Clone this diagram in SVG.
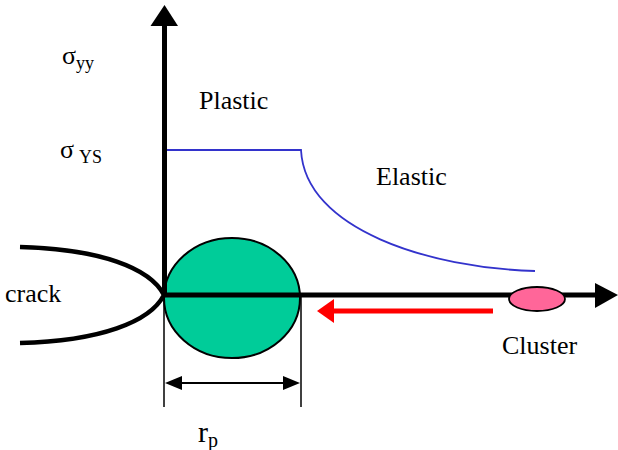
<svg xmlns="http://www.w3.org/2000/svg" width="618" height="450" viewBox="0 0 618 450">
<style>
.lbl{font-size:26px}
.sub{font-size:18px}
.thin{stroke:#000;stroke-width:1.5;fill:none}
</style>
<rect width="618" height="450" fill="#fff"/>
<g font-family="Liberation Serif, Times New Roman, DejaVu Serif, serif" fill="#000">
<g id="plastic-zone">
<ellipse cx="232" cy="298" rx="68" ry="60" fill="#00CC99" stroke="#000" stroke-width="2"/>
</g>
<g id="crack">
<path d="M20,247 C100,249 150,268 164,295 C150,322 100,341 20,343" fill="none" stroke="#000" stroke-width="4.5"/>
<text class="lbl" x="5" y="302">crack</text>
</g>
<g id="stress-curve">
<path d="M164,150 H301 C305,230 430,268 535,271" fill="none" stroke="#3333CC" stroke-width="1.8"/>
</g>
<g id="connectors">
<line x1="164.5" y1="297" x2="164.5" y2="24" stroke="#000" stroke-width="5"/>
<polygon points="164.5,5 150.5,26 178,26" fill="#000"/>
<line x1="164" y1="295" x2="597" y2="295" stroke="#000" stroke-width="5"/>
<polygon points="618,295 595,283 595,308" fill="#000"/>
<line x1="493" y1="311" x2="330" y2="311" stroke="#FF0000" stroke-width="5"/>
<polygon points="317,311 334,299 334,323" fill="#FF0000"/>
<line class="thin" x1="164" y1="297" x2="164" y2="407"/>
<line class="thin" x1="301" y1="297" x2="301" y2="407"/>
<line x1="175" y1="383" x2="290" y2="383" stroke="#000" stroke-width="2"/>
<polygon points="165,383 182,376 182,390" fill="#000"/>
<polygon points="300,383 283,376 283,390" fill="#000"/>
</g>
<g id="cluster">
<ellipse cx="537" cy="299" rx="28" ry="12" fill="#FF6699" stroke="#000" stroke-width="1.8"/>
<text class="lbl" x="502" y="354">Cluster</text>
</g>
<g id="labels">
<text class="lbl" x="199" y="109">Plastic</text>
<text class="lbl" x="376" y="185">Elastic</text>
<text class="lbl" x="62" y="64">σ<tspan class="sub" dy="5">yy</tspan></text>
<text class="lbl" x="60" y="158">σ<tspan class="sub" dx="5" dy="5">YS</tspan></text>
<text font-size="30" x="198" y="442">r<tspan font-size="20" dy="5">p</tspan></text>
</g>
</g>
</svg>
